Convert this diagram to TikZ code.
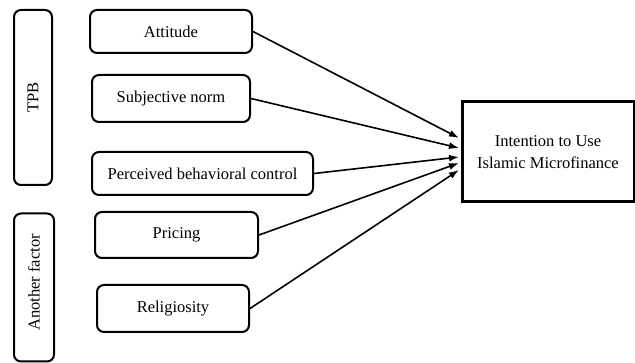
\documentclass[tikz,border=0pt]{standalone}
\usepackage{fontspec}
\setmainfont{Liberation Serif}
\usetikzlibrary{arrows.meta}
\begin{document}
\begin{tikzpicture}[x=1pt,y=-1pt,
  fbox/.style={draw,line width=2pt,rounded corners=7pt,inner sep=0pt,font=\fontsize{16.5}{19}\selectfont},
  tbox/.style={draw,line width=3pt,inner sep=0pt,align=center,font=\fontsize{16.5}{22}\selectfont},
  arr/.style={-{Latex[length=10pt,width=7pt]},line width=1.6pt}]
\useasboundingbox (0,0) rectangle (635,363);
\node[fbox,minimum width=38pt,minimum height=175pt] (tpb) at (33,97.5) {\rotatebox{90}{TPB}};
\node[fbox,minimum width=40pt,minimum height=148pt] (another) at (34,287.5) {\rotatebox{90}{\hspace{10pt}Another factor}};
\node[fbox,minimum width=162pt,minimum height=43pt] (att) at (171,31.5) {Attitude};
\node[fbox,minimum width=158pt,minimum height=47pt] (sn) at (171,98.5) {Subjective norm};
\node[fbox,minimum width=221pt,minimum height=43pt] (pbc) at (202.5,173.5) {Perceived behavioral control};
\node[fbox,minimum width=163pt,minimum height=46pt] (pr) at (176.5,235) {Pricing};
\node[fbox,minimum width=152pt,minimum height=47pt] (rel) at (173,308.5) {Religiosity};
\node[tbox,minimum width=172pt,minimum height=100pt] (int) at (548,152) {Intention to Use\\Islamic Microfinance};
\coordinate (e1) at (459,138);
\coordinate (e2) at (459,148);
\coordinate (e3) at (459,157);
\coordinate (e4) at (459,163);
\coordinate (e5) at (459,170);
\draw[arr] (att.east) -- (e1);
\draw[arr] (sn.east) -- (e2);
\draw[arr] (pbc.east) -- (e3);
\draw[arr] (pr.east) -- (e4);
\draw[arr] (rel.east) -- (e5);
\end{tikzpicture}
\end{document}
